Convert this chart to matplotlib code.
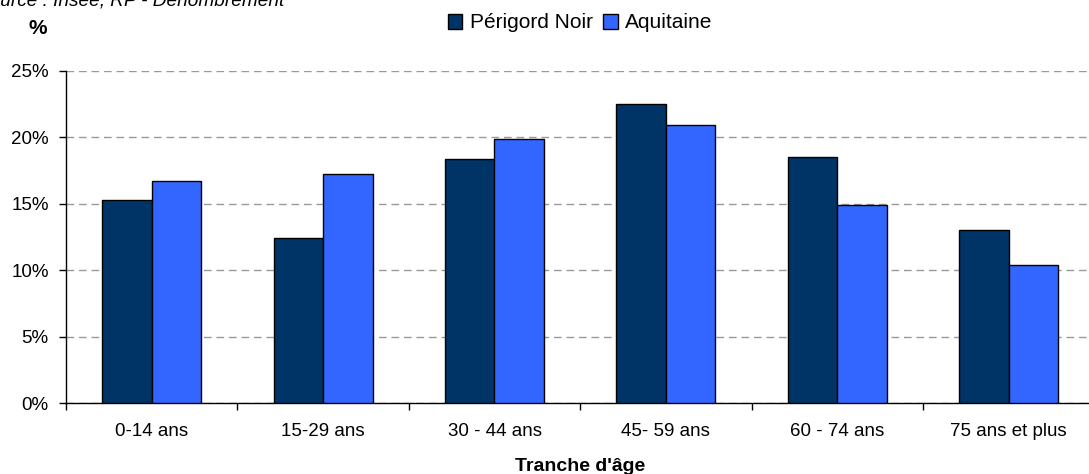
import matplotlib.pyplot as plt
import numpy as np

plt.rcParams['font.family'] = ['Liberation Sans', 'DejaVu Sans']

categories = ['0-14 ans', '15-29 ans', '30 - 44 ans', '45- 59 ans', '60 - 74 ans', '75 ans et plus']
perigord = [15.3, 12.4, 18.4, 22.5, 18.5, 13.0]
aquitaine = [16.7, 17.2, 19.9, 20.9, 14.9, 10.4]
yticks = [0, 5, 10, 15, 20, 25]

fig = plt.figure(figsize=(10.89, 4.74), dpi=100)
ax = fig.add_axes([66 / 1089, 70.7 / 474, 1028.4 / 1089, 332.6 / 474])

x = np.arange(len(categories))
w = 0.289
ax.bar(x - w / 2, perigord, w, color='#003366', edgecolor='black', linewidth=1.0,
       label='Périgord Noir', zorder=3)
ax.bar(x + w / 2, aquitaine, w, color='#3366FF', edgecolor='black', linewidth=1.0,
       label='Aquitaine', zorder=3)

ax.set_xlim(-0.5, len(categories) - 0.5)
ax.set_ylim(0, 25)
ax.set_yticks(yticks)
ax.set_yticklabels([f'{v}%' for v in yticks], fontsize=13.5)
ax.set_xticks(x)
ax.set_xticklabels(categories, fontsize=13.5)
ax.tick_params(axis='x', which='major', length=0, pad=14)
ax.set_xticks(np.arange(-0.5, len(categories)), minor=True)
ax.tick_params(axis='x', which='minor', length=5, direction='out', width=1)
ax.tick_params(axis='y', length=5, direction='out', width=1, pad=7.5)

ax.yaxis.grid(True, color='#999999', linestyle=(0, (5.5, 3.5)), linewidth=1.0, zorder=0)
ax.set_axisbelow(True)
for s in ['top', 'right']:
    ax.spines[s].set_visible(False)
ax.spines['left'].set_linewidth(1.0)
ax.spines['bottom'].set_linewidth(1.0)

ax.set_xlabel("Tranche d'âge", fontsize=14, fontweight='bold', labelpad=13)

fig.text(38 / 1089, 1 - 28 / 474, '%', fontsize=15, fontweight='bold', ha='center', va='center')
fig.text(-23 / 1089, 1 - 5 / 474, 'Source : Insee, RP - Dénombrement', fontsize=13.7,
         style='italic', ha='left', va='baseline')

fig.legend(loc='center', bbox_to_anchor=(580 / 1089, 1 - 23 / 474), ncol=2, frameon=False,
           fontsize=15, handlelength=0.7, handleheight=0.7, handletextpad=0.35,
           columnspacing=0.5, borderpad=0)

fig.savefig('out.png', dpi=100)
